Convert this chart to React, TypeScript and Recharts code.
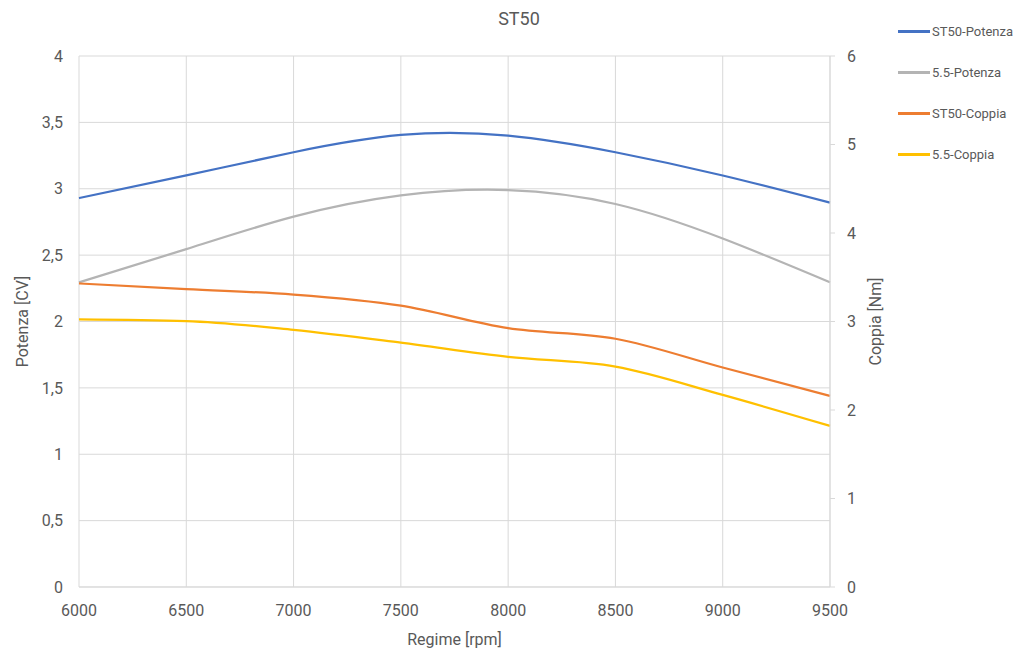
import React from 'react';
import { LineChart, Line, XAxis, YAxis, CartesianGrid } from 'recharts';

const regime = [6000, 6500, 7000, 7500, 8000, 8500, 9000, 9500];
const st50Potenza = [2.93, 3.1, 3.275, 3.405, 3.4, 3.275, 3.1, 2.895];
const s55Potenza = [2.295, 2.545, 2.79, 2.95, 2.99, 2.885, 2.625, 2.295];
const st50Coppia = [3.43, 3.365, 3.305, 3.18, 2.925, 2.805, 2.48, 2.16];
const s55Coppia = [3.025, 3.005, 2.905, 2.76, 2.6, 2.49, 2.17, 1.82];

const xTicks = [6000, 6500, 7000, 7500, 8000, 8500, 9000, 9500];
const leftTicks = [0, 0.5, 1, 1.5, 2, 2.5, 3, 3.5, 4];
const rightTicks = [0, 1, 2, 3, 4, 5, 6];

const series = [
  { key: 'st50Potenza', name: 'ST50-Potenza', color: '#4472C4', axis: 'left', curve: 'natural' },
  { key: 's55Potenza', name: '5.5-Potenza', color: '#B4B4B4', axis: 'left', curve: 'natural' },
  { key: 'st50Coppia', name: 'ST50-Coppia', color: '#ED7D31', axis: 'right', curve: 'monotone' },
  { key: 's55Coppia', name: '5.5-Coppia', color: '#FFC000', axis: 'right', curve: 'monotone' },
];

const data = regime.map((r, i) => ({
  regime: r,
  st50Potenza: st50Potenza[i],
  s55Potenza: s55Potenza[i],
  st50Coppia: st50Coppia[i],
  s55Coppia: s55Coppia[i],
}));

const font = 'Roboto, sans-serif';
const grey = '#595959';
const commaFmt = (v: number) => String(v).replace('.', ',');

export default function App() {
  return (
    <div style={{ position: 'absolute', left: 0, top: 0, width: 1013, height: 651, background: '#fff', fontFamily: font }}>
      <div style={{ position: 'absolute', left: 0, width: 1013, top: 8, textAlign: 'center', paddingLeft: 25, boxSizing: 'border-box', fontSize: 18, color: grey }}>
        ST50
      </div>
      <LineChart width={1013} height={651} data={data} margin={{ top: 56, right: 123, bottom: 0, left: 0 }}>
        <CartesianGrid yAxisId='left' stroke='#d9d9d9' />
        <XAxis
          dataKey='regime'
          type='number'
          domain={[6000, 9500]}
          ticks={xTicks}
          height={64}
          stroke='#d9d9d9'
          tickLine={false}
          tickSize={6}
          tickMargin={12}
          tick={{ fill: grey, fontSize: 16, fontFamily: font }}
          label={{ value: 'Regime [rpm]', position: 'insideBottom', offset: 6, fill: grey, fontSize: 16, fontFamily: font }}
        />
        <YAxis
          yAxisId='left'
          domain={[0, 4]}
          ticks={leftTicks}
          width={79}
          axisLine={false}
          tickLine={false}
          tickSize={6}
          tickMargin={10}
          tickFormatter={commaFmt}
          tick={{ fill: grey, fontSize: 16, fontFamily: font }}
          label={{ value: 'Potenza [CV]', angle: -90, position: 'insideLeft', offset: 22, fill: grey, fontSize: 16, fontFamily: font, style: { textAnchor: 'middle' } }}
        />
        <YAxis
          yAxisId='right'
          orientation='right'
          domain={[0, 6]}
          ticks={rightTicks}
          width={60}
          stroke='#d9d9d9'
          tickSize={5}
          tickMargin={12}
          tick={{ fill: grey, fontSize: 16, fontFamily: font }}
          label={{ value: 'Coppia [Nm]', angle: -90, position: 'insideRight', offset: 15, fill: grey, fontSize: 16, fontFamily: font, style: { textAnchor: 'middle' } }}
        />
        {series.map((s) => (
          <Line
            key={s.key}
            yAxisId={s.axis}
            type={s.curve as any}
            dataKey={s.key}
            name={s.name}
            stroke={s.color}
            strokeWidth={2.25}
            dot={false}
            activeDot={false}
            isAnimationActive={false}
          />
        ))}
      </LineChart>
      <div style={{ position: 'absolute', left: 898, top: 21 }}>
        {series.map((s) => (
          <div key={s.key} style={{ display: 'flex', alignItems: 'center', height: 41, whiteSpace: 'nowrap' }}>
            <div style={{ width: 32, height: 2.5, background: s.color, marginRight: 2, marginTop: -20 }} />
            <span style={{ fontSize: 13, color: grey, marginTop: -20 }}>{s.name}</span>
          </div>
        ))}
      </div>
    </div>
  );
}
